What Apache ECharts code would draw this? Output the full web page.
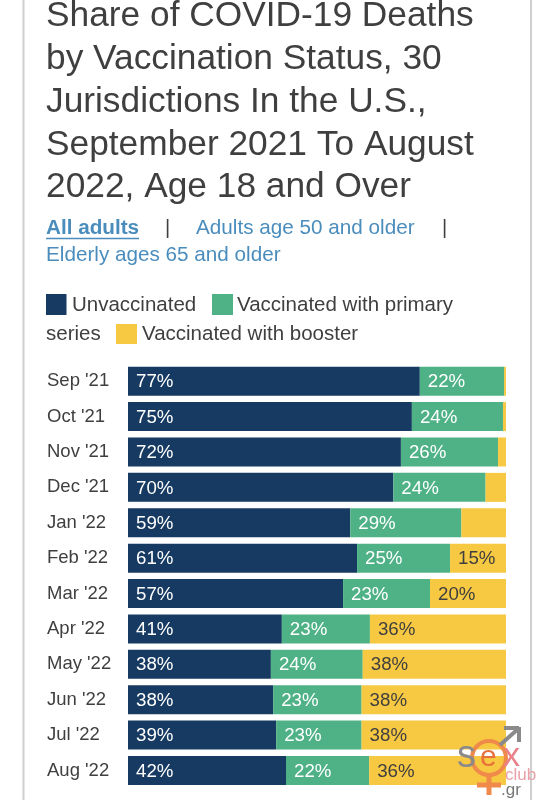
<!DOCTYPE html>
<html><head><meta charset="utf-8">
<style>html,body{margin:0;padding:0;background:#fff}#c{width:553px;height:800px}</style>
<script src="https://cdn.jsdelivr.net/npm/echarts@6/dist/echarts.min.js"></script>
</head><body><div id="c"></div>
<script>
const months=["Sep '21","Oct '21","Nov '21","Dec '21","Jan '22","Feb '22","Mar '22","Apr '22","May '22","Jun '22","Jul '22","Aug '22"];
const unvaccinated=[77.2,75.1,72.2,70.2,58.8,60.6,56.9,40.7,37.8,38.4,39.2,41.8];
const primary=[22.3,24.1,25.7,24.4,29.4,24.6,23,23.3,24.3,23.4,22.6,22];
const booster=[0.5,0.8,2.1,5.4,11.8,14.8,20.1,36,37.9,38.2,38.2,36.2];
const seriesNames=["Unvaccinated","Vaccinated with primary series","Vaccinated with booster"];
const colors=["#163a61","#4fb286","#f7c842"];
const titleText="Share of COVID-19 Deaths\nby Vaccination Status, 30\nJurisdictions In the U.S.,\nSeptember 2021 To August\n2022, Age 18 and Over";
const FONT='"Liberation Sans",Arial,sans-serif';
const ink="#3f3f3f", link="#4a8dbd", border="#cfcfcf";

function bar(i,values,labelColor,minLabel){
  return {name:seriesNames[i],type:'bar',stack:'s',data:values,barWidth:29,
    itemStyle:{color:colors[i]},
    label:{show:true,position:'insideLeft',distance:8,offset:[0,1],color:labelColor,fontFamily:FONT,fontSize:18.7,
      formatter:p=>p.value>=minLabel?Math.round(p.value)+'%':''}};
}
const txt=(x,y,text,fill,size,extra)=>({type:'text',x,y,z:100,silent:true,style:Object.assign({text,fill,fontSize:size,fontFamily:FONT,textVerticalAlign:'middle'},extra||{})});
const rect=(x,y,w,h,fill)=>({type:'rect',shape:{x,y,width:w,height:h},style:{fill},silent:true});
const line=(x1,y1,x2,y2,stroke,w)=>({type:'line',z:100,shape:{x1,y1,x2,y2},style:{stroke,lineWidth:w},silent:true});

const chart=echarts.init(document.getElementById('c'),null,{renderer:'canvas'});
chart.setOption({
  backgroundColor:'#fff',animation:false,
  title:{text:titleText,left:46,top:-5,padding:0,textStyle:{fontFamily:FONT,fontSize:35.3,fontWeight:'normal',color:ink,lineHeight:42.8}},
  grid:{left:128,right:47,top:363.5,bottom:11.8},
  xAxis:{type:'value',min:0,max:100,show:false},
  yAxis:{type:'category',inverse:true,data:months,axisLine:{show:false},axisTick:{show:false},
    axisLabel:{align:'left',margin:81,color:ink,fontFamily:FONT,fontSize:18.5}},
  series:[bar(0,unvaccinated,'#fff',0),bar(1,primary,'#fff',0),bar(2,booster,ink,14)],
  graphic:{elements:[
    line(23.5,0,23.5,800,border,2),line(531,0,531,800,border,2),
    txt(46,228.5,"All adults",link,20.7,{fontWeight:'bold'}),
    line(46,238.5,139,238.5,link,1.5),
    txt(165,228.5,"|",ink,20),
    txt(196,228.5,"Adults age 50 and older",link,20.7),
    txt(442,228.5,"|",ink,20),
    txt(46,255.5,"Elderly ages 65 and older",link,20.7),
    rect(46,294,20.5,21,colors[0]),
    txt(72,305,"Unvaccinated",ink,20.5),
    rect(212,294,21,21,colors[1]),
    txt(237,305,"Vaccinated with primary",ink,20.5),
    txt(46,334.5,"series",ink,20.5),
    rect(116,324,21,20,colors[2]),
    txt(142,334.5,"Vaccinated with booster",ink,20.5),
    // watermark
    txt(457,757,"s",'#8a8a8a',38),
    {type:'circle',z:99,shape:{cx:489,cy:758,r:17},style:{fill:'none',stroke:'#ef8a4a',lineWidth:4},silent:true},
    txt(480,758,"e",'#e8703a',30),
    txt(503,757,"x",'#e9808a',34),
    txt(505,775,"club",'#e9a0a8',17),
    txt(501,790,".gr",'#777',17),
    line(489,775,489,795,'#ef8a4a',5),line(477,785,501,785,'#ef8a4a',5),
    line(500,745,518,729,'#8a8a8a',4),line(504,728,519,728,'#8a8a8a',4),line(519,727,519,742,'#8a8a8a',4)
  ]}
});
</script></body></html>
